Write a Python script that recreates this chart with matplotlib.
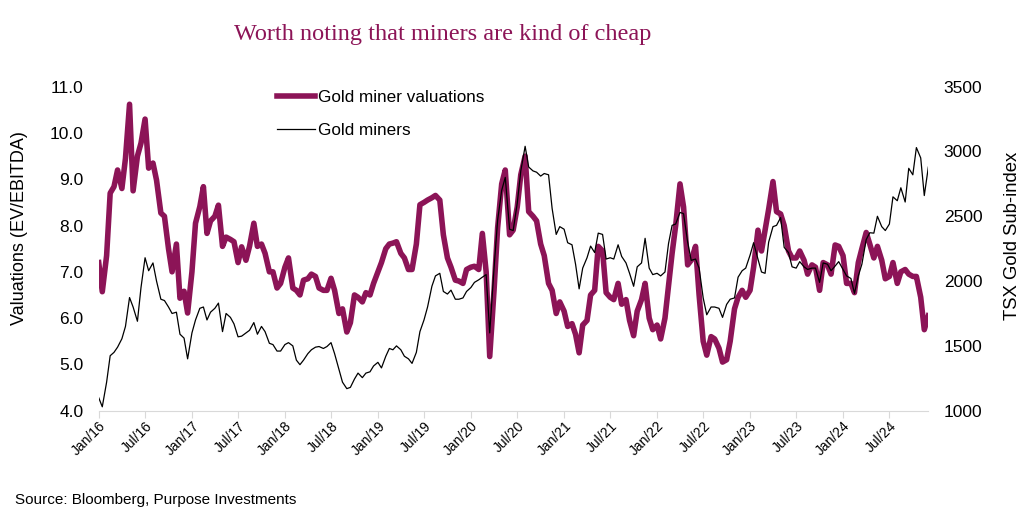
import matplotlib
matplotlib.use("Agg")
import matplotlib.pyplot as plt
import pandas as pd
import numpy as np

plt.rcParams['font.family'] = ['Liberation Sans', 'DejaVu Sans']

# semi-monthly observation dates (1st and 15th of each month), Jan 2016 - Dec 2024
dates = pd.date_range('2016-01-01', periods=215, freq='SMS')

valuations = [
    7.2, 6.57, 7.35, 8.7, 8.84, 9.2, 8.8, 9.45, 10.62, 8.75, 9.5, 9.78, 10.3, 9.24, 9.35, 8.98,
    8.27, 8.2, 7.5, 7.0, 7.6, 6.43, 6.58, 6.11, 7.0, 8.05, 8.41, 8.84, 7.83, 8.1, 8.2, 8.44,
    7.55, 7.75, 7.7, 7.65, 7.2, 7.54, 7.25, 7.55, 8.05, 7.55, 7.6, 7.4, 7.0, 7.0, 6.65, 6.75,
    7.1, 7.3, 6.65, 6.6, 6.5, 6.82, 6.85, 6.95, 6.9, 6.65, 6.6, 6.6, 6.86, 6.6, 6.1, 6.2,
    5.7, 5.9, 6.5, 6.45, 6.35, 6.55, 6.5, 6.75, 7.0, 7.2, 7.5, 7.6, 7.62, 7.65, 7.4, 7.3,
    7.05, 7.05, 7.6, 8.45, 8.5, 8.55, 8.6, 8.65, 8.55, 7.8, 7.3, 7.1, 6.82, 6.8, 6.75, 7.05,
    7.1, 7.12, 7.05, 7.83, 7.0, 5.17, 6.6, 7.95, 8.9, 9.2, 7.8, 7.9, 8.4, 9.1, 9.5, 8.3,
    8.2, 8.1, 7.6, 7.35, 6.75, 6.6, 6.1, 6.35, 6.15, 5.82, 5.88, 5.65, 5.25, 5.85, 5.95, 6.5,
    6.6, 7.55, 7.45, 6.55, 6.45, 6.4, 6.75, 6.3, 6.4, 5.95, 5.62, 6.15, 6.4, 6.75, 6.0, 5.75,
    5.85, 5.55, 6.0, 6.7, 7.4, 8.0, 8.9, 8.4, 7.15, 7.25, 7.55, 6.5, 5.5, 5.2, 5.6, 5.55,
    5.35, 5.05, 5.1, 5.5, 6.2, 6.45, 6.6, 6.45, 6.6, 7.1, 7.9, 7.45, 7.9, 8.35, 8.95, 8.3,
    8.25, 8.0, 7.45, 7.3, 7.3, 7.45, 7.25, 6.95, 7.15, 7.1, 6.6, 7.2, 7.15, 6.95, 7.58, 7.55,
    7.35, 6.75, 6.75, 6.55, 7.2, 7.5, 7.85, 7.6, 7.3, 7.55, 7.25, 6.85, 6.9, 7.2, 6.75, 7.0,
    7.05, 6.95, 6.9, 6.9, 6.45, 5.75, 6.05,
]

gold_miners = [
    1100, 1030, 1220, 1424, 1450, 1490, 1555, 1650, 1873, 1800, 1690, 1950, 2180, 2080, 2140, 2000,
    1860, 1850, 1800, 1750, 1760, 1590, 1560, 1400, 1600, 1700, 1790, 1800, 1700, 1760, 1790, 1830,
    1610, 1750, 1720, 1670, 1570, 1575, 1600, 1620, 1680, 1590, 1650, 1610, 1520, 1510, 1460, 1460,
    1510, 1525, 1500, 1390, 1355, 1390, 1440, 1470, 1490, 1495, 1480, 1495, 1525, 1440, 1320, 1220,
    1170, 1180, 1244, 1290, 1255, 1290, 1300, 1345, 1373, 1330, 1420, 1480, 1470, 1500, 1470, 1420,
    1400, 1365, 1450, 1610, 1700, 1800, 1960, 2040, 2060, 1920, 1900, 1930, 1860, 1860, 1870, 1920,
    1950, 1990, 2010, 2030, 2050, 1600, 2100, 2470, 2700, 2800, 2400, 2390, 2600, 2850, 3040, 2880,
    2850, 2840, 2810, 2830, 2820, 2560, 2360, 2420, 2400, 2296, 2280, 2130, 1940, 2100, 2180, 2270,
    2220, 2370, 2360, 2170, 2180, 2170, 2280, 2190, 2140, 2060, 1960, 2110, 2140, 2330, 2100, 2050,
    2060, 2040, 2070, 2290, 2430, 2440, 2530, 2520, 2300, 2160, 2170, 2100, 1870, 1740, 1800, 1800,
    1790, 1720, 1820, 1860, 1870, 2030, 2080, 2100, 2200, 2296, 2170, 2070, 2060, 2300, 2420, 2430,
    2490, 2260, 2220, 2110, 2100, 2150, 2110, 2090, 2100, 2100, 1990, 2140, 2130, 2080, 2116, 2150,
    2090, 2040, 2020, 1905, 2040, 2130, 2320, 2373, 2370, 2500, 2420, 2390, 2440, 2650, 2620, 2720,
    2610, 2870, 2820, 3030, 2950, 2660, 2880,
]

tick_dates = pd.date_range('2016-01-01', '2024-07-01', freq='6MS')
tick_labels = [d.strftime('%b/%y') for d in tick_dates]

title = "Worth noting that miners are kind of cheap"
source = "Source: Bloomberg, Purpose Investments"
maroon = '#8C1457'

fig = plt.figure(figsize=(10.24, 5.19), dpi=100)
ax = fig.add_axes([0.0964, 0.2087, 0.8102, 0.6243])
ax2 = ax.twinx()

l1, = ax.plot(dates, valuations, color=maroon, lw=4.0, solid_joinstyle='round',
              label='Gold miner valuations')
l2, = ax2.plot(dates, gold_miners, color='black', lw=0.9, label='Gold miners')

ax.set_xlim(dates[0], dates[-1])
ax.set_ylim(4.0, 11.0)
ax2.set_ylim(1000, 3500)
ax.set_yticks(np.arange(4, 11.01, 1.0))
ax.set_yticklabels([f"{v:.1f}" for v in np.arange(4, 11.01, 1.0)])
ax2.set_yticks(np.arange(1000, 3501, 500))

ax.set_xticks(tick_dates)
ax.set_xticklabels(tick_labels, rotation=45, ha='right', rotation_mode='anchor', fontsize=10)

for a in (ax, ax2):
    for s in ('top', 'left', 'right'):
        a.spines[s].set_visible(False)
    a.spines['bottom'].set_color('#d9d9d9')
ax2.spines['bottom'].set_visible(False)

ax.tick_params(axis='y', length=0, pad=11, labelsize=12.5)
ax2.tick_params(axis='y', length=0, pad=11, labelsize=12.5)
ax.tick_params(axis='x', length=5, color='#d9d9d9', pad=1)

ax.set_ylabel('Valuations (EV/EBITDA)', fontsize=13)
ax2.set_ylabel('TSX Gold Sub-index', fontsize=13.3)
ax.yaxis.set_label_coords(-0.085, 0.564)
ax2.yaxis.set_label_coords(1.091, 0.539)

ax2.legend(handles=[l1, l2], loc='upper left', bbox_to_anchor=(0.215, 0.99),
           frameon=False, fontsize=12.3, handlelength=2.2, handletextpad=0.2,
           labelspacing=1.05, borderpad=0, borderaxespad=0)

fig.text(0.432, 0.934, title, fontsize=17.5, color=maroon, ha='center', va='center',
         family=['Liberation Serif', 'DejaVu Serif'])
fig.text(0.015, 0.036, source, fontsize=11, ha='left', va='center')

fig.savefig('out.png', dpi=100)
